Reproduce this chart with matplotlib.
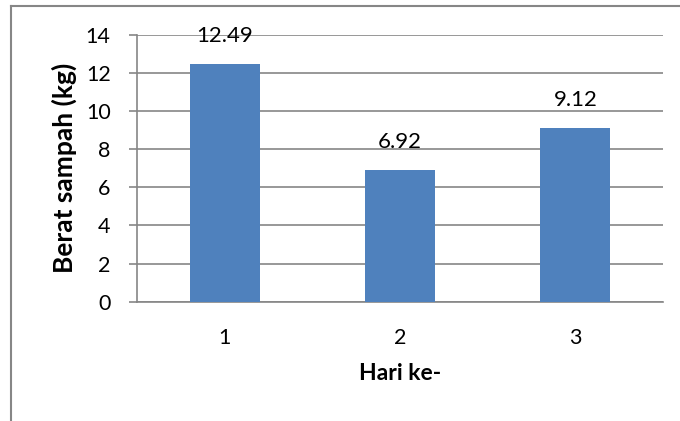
import matplotlib.pyplot as plt
from matplotlib.lines import Line2D

# Berat sampah per hari
hari = ['1', '2', '3']
berat = [12.49, 6.92, 9.12]
label_berat = ['12.49', '6.92', '9.12']
y_ticks = [0, 2, 4, 6, 8, 10, 12, 14]

plt.rcParams['font.family'] = ['Lato', 'DejaVu Sans']

fig = plt.figure(figsize=(6.8, 4.21), dpi=100)
ax = fig.add_axes([0.2015, 0.2834, 0.7735, 0.6335])

x = range(len(hari))
bars = ax.bar(x, berat, width=0.4, color='#4F81BD', zorder=3)

for xi, val, txt in zip(x, berat, label_berat):
    ax.annotate(txt, (xi, val), xytext=(0, 20), textcoords='offset points',
                ha='center', va='center', fontsize=16)

ax.set_xlim(-0.5, 2.5)
ax.set_ylim(0, 14)
ax.set_yticks(y_ticks)
ax.set_xticks(list(x))
ax.set_xticklabels(hari)
ax.grid(axis='y', color='#868686', linewidth=1.2, zorder=0)

for side in ['top', 'right']:
    ax.spines[side].set_visible(False)
for side in ['left', 'bottom']:
    ax.spines[side].set_color('#868686')
    ax.spines[side].set_linewidth(1.2)

ax.tick_params(axis='y', length=6, width=1.2, color='#868686', pad=13, labelsize=15.5)
ax.tick_params(axis='x', length=0, pad=19, labelsize=15.5)

ax.set_xlabel('Hari ke-', fontsize=16.5, fontweight='bold', labelpad=11)
ax.set_ylabel('Berat sampah (kg)', fontsize=19, fontweight='bold', labelpad=6)

# bingkai luar
fig.add_artist(Line2D([11 / 680, 11 / 680], [0, 1 - 6 / 421], transform=fig.transFigure,
                      color='#868686', linewidth=1.5))
fig.add_artist(Line2D([11 / 680, 1], [1 - 6 / 421, 1 - 6 / 421], transform=fig.transFigure,
                      color='#868686', linewidth=1.5))

fig.savefig('out.png', dpi=100)
